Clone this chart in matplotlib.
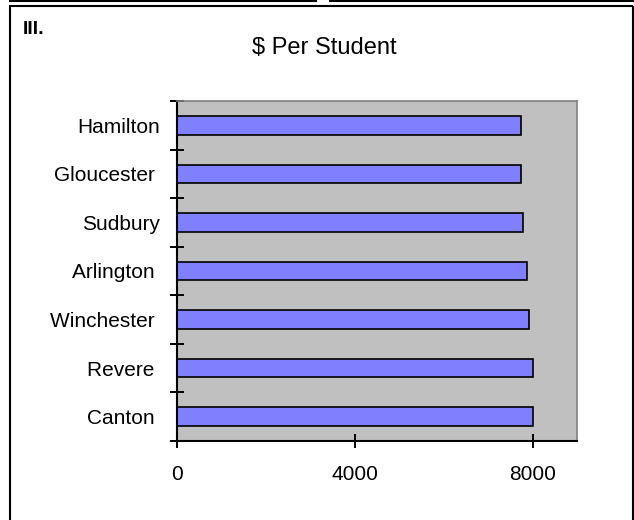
import matplotlib
matplotlib.use("Agg")
import matplotlib.pyplot as plt
from matplotlib.lines import Line2D

# data, bottom to top
schools = ["Canton ", "Revere ", "Winchester ", "Arlington ", "Sudbury", "Gloucester ", "Hamilton"]
dollars = [8005, 8010, 7920, 7880, 7790, 7735, 7740]
xticks = [0, 4000, 8000]

plt.rcParams["font.family"] = ["Liberation Sans", "DejaVu Sans"]

W, H = 634, 520
fig = plt.figure(figsize=(W / 100, H / 100), dpi=100)

def px(x, y):
    return x / W, 1 - y / H

# page frame lines around the chart
def line(x0, y0, x1, y1, lw=1.5):
    a, b = px(x0, y0)
    c, d = px(x1, y1)
    fig.add_artist(Line2D([a, c], [b, d], transform=fig.transFigure, color="black", lw=lw, solid_capstyle="butt"))

line(9, 1, 317, 1)
line(329, 1, 640, 1)
line(9, 6, 633, 6)
line(10, 6, 10, 530)
line(632.7, 6, 632.7, 530)

ax = fig.add_axes([177 / W, 1 - 441 / H, 400 / W, 340 / H])
ax.set_facecolor("#C0C0C0")

pos = list(range(len(schools)))
ax.barh(pos, dollars, height=0.38, color="#8080FF", edgecolor="black", linewidth=1.2)

ax.set_xlim(0, 9000)
ax.set_ylim(-0.5, len(schools) - 0.5)
ax.set_xticks(xticks)
ax.set_xticklabels([str(t) for t in xticks])

ax.set_yticks(pos)
ax.set_yticklabels(schools)
ax.set_yticks([p - 0.5 for p in range(len(schools) + 1)], minor=True)
ax.tick_params(axis="y", which="major", length=0, pad=12, labelsize=15)
ax.tick_params(axis="y", which="minor", direction="inout", length=10, width=1.4)
ax.tick_params(axis="x", direction="inout", length=10, width=1.4, pad=12, labelsize=15)

for s in ["left", "bottom"]:
    ax.spines[s].set_linewidth(1.5)
    ax.spines[s].set_color("black")
for s in ["top", "right"]:
    ax.spines[s].set_linewidth(1.2)
    ax.spines[s].set_color("#808080")

fig.text(*px(324, 48), "$ Per Student", ha="center", va="center", fontsize=17)
fig.text(*px(23, 30), "III.", ha="left", va="center", fontsize=14, fontweight="bold")

fig.savefig("out.png", dpi=100)
